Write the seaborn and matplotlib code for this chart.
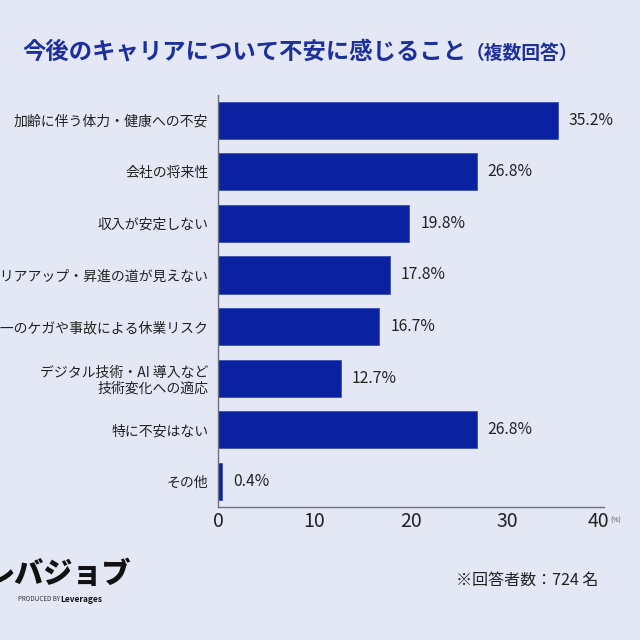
import matplotlib
matplotlib.use("Agg")
import matplotlib.pyplot as plt
import matplotlib.transforms as mtransforms
import seaborn as sns
import pandas as pd

CATEGORIES = [
    "加齢に伴う体力・健康への不安",
    "会社の将来性",
    "収入が安定しない",
    "キャリアアップ・昇進の道が見えない",
    "万が一のケガや事故による休業リスク",
    "デジタル技術・AI 導入など\n技術変化への適応",
    "特に不安はない",
    "その他",
]
VALUES = [35.2, 26.8, 19.8, 17.8, 16.7, 12.7, 26.8, 0.4]
X_TICKS = [0, 10, 20, 30, 40]

BG = "#e4e8f5"
BAR = "#0a22a0"
TITLE_COLOR = "#1d2f9c"
TEXT = "#222222"

sns.set_theme(style="white")
plt.rcParams["font.family"] = ["Noto Sans CJK JP", "DejaVu Sans"]

df = pd.DataFrame({"item": CATEGORIES, "pct": VALUES})

fig = plt.figure(figsize=(6.4, 6.4), dpi=100, facecolor=BG)
ax = fig.add_axes([218 / 640, 1 - 507 / 640, 386 / 640, 412 / 640])
ax.set_facecolor(BG)

sns.barplot(data=df, x="pct", y="item", orient="h", color=BAR,
            width=0.72, saturation=1, edgecolor="#3a50b8", linewidth=0.6, ax=ax)

ax.bar_label(ax.containers[0], fmt="%.1f%%", padding=8, fontsize=11.3, color=TEXT)

ax.set_xlim(0, 40)
ax.set_ylim(7.5, -0.49)
ax.set_xticks(X_TICKS)
ax.set_xticklabels([str(t) for t in X_TICKS], fontsize=14, color=TEXT)
ax.tick_params(axis="x", length=0, pad=3)
ax.tick_params(axis="y", length=0, pad=7, labelsize=10, labelcolor=TEXT)
ax.set_xlabel("")
ax.set_ylabel("")
for lbl in ax.get_yticklabels():
    lbl.set_multialignment("right")

# nudge the last tick label left so the unit fits beside it
last = ax.get_xticklabels()[-1]
last.set_transform(last.get_transform() + mtransforms.ScaledTranslation(-6 / 100, 0, fig.dpi_scale_trans))

for side in ["top", "right"]:
    ax.spines[side].set_visible(False)
for side in ["left", "bottom"]:
    ax.spines[side].set_color("#6c7080")
    ax.spines[side].set_linewidth(1.0)

fig.text(610 / 640, 1 - 521 / 640, "(%)", fontsize=5, color="#555555", va="center", ha="left")

# title
fig.text(22 / 640, 1 - 52 / 640, "今後のキャリアについて不安に感じること", fontsize=16.8,
         fontweight="bold", color=TITLE_COLOR, va="center", ha="left")
fig.text(466 / 640, 1 - 53 / 640, "（複数回答）", fontsize=13.5,
         fontweight="bold", color=TITLE_COLOR, va="center", ha="left")

# footer
fig.text(598 / 640, 1 - 580 / 640, "※回答者数：724 名", fontsize=11.5, color=TEXT,
         va="center", ha="right")
fig.text(-14 / 640, 1 - 574 / 640, "レバジョブ", fontsize=21, fontweight="black",
         style="italic", color="#111111", va="center", ha="left")
fig.text(18 / 640, 1 - 599 / 640, "PRODUCED BY", fontsize=4.5, color="#333333",
         va="center", ha="left")
fig.text(60 / 640, 1 - 599 / 640, "Leverages", fontsize=6, fontweight="bold",
         color="#111111", va="center", ha="left")

fig.savefig("out.png", dpi=100, facecolor=BG)
